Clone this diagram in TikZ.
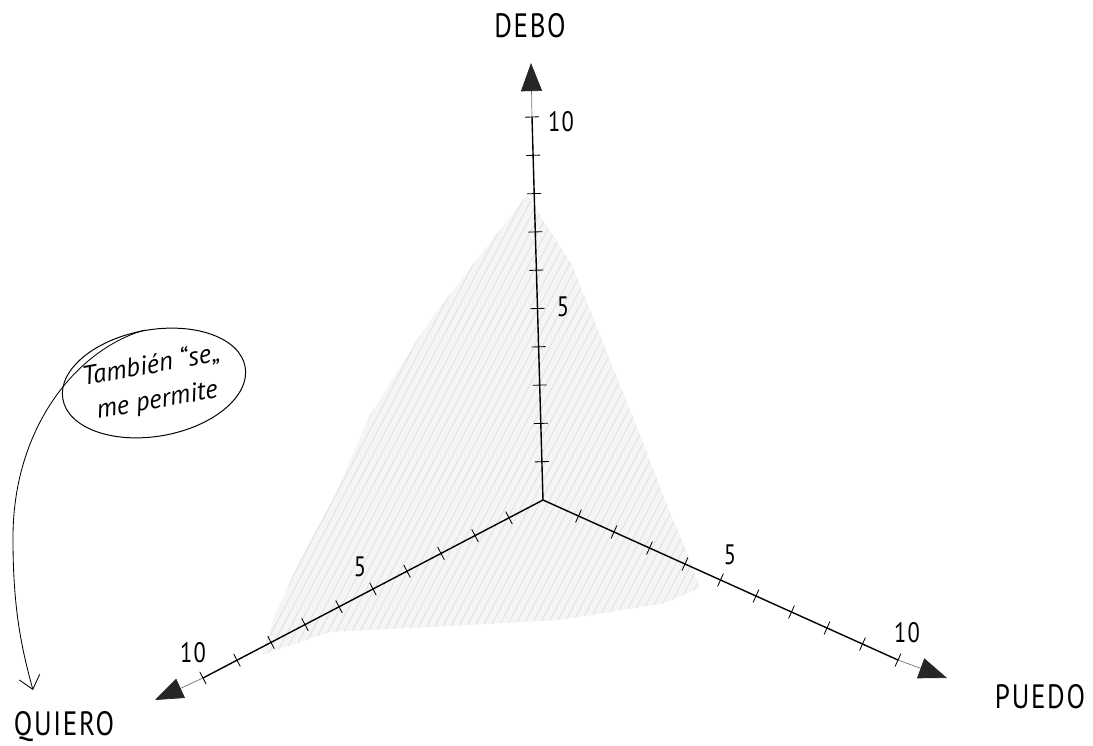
\documentclass[tikz,border=0pt]{standalone}
\usepackage{fontspec}
\setmainfont{PT Sans}
\newfontfamily\labelfont[FakeStretch=0.8,LetterSpace=5]{PT Sans}
\usetikzlibrary{arrows.meta,calc,shapes.geometric}

\tikzset{
  axis/.style={line width=1pt, line cap=round},
  axisend/.style={line width=0.5pt, black!55, -{Triangle[length=20pt,width=15pt,color=black!85]}},
  tick/.style={line width=0.6pt},
  num/.style={font=\labelfont\fontsize{20}{22}\selectfont, inner sep=0pt},
  axislabel/.style={font=\labelfont\fontsize{24}{26}\selectfont, inner sep=0pt},
  note/.style={ellipse, draw, line width=0.7pt, align=center, rotate=10,
    font=\itshape\fontsize{19}{25}\selectfont, inner xsep=-3pt, inner ysep=5pt},
  notearrow/.style={line width=0.6pt, -{Straight Barb[length=9pt,width=15pt]}},
  hatch/.style={black!11, line width=0.7pt}
}

\begin{document}
\begin{tikzpicture}[x=0.025cm, y=-0.025cm]
  \useasboundingbox (0,0) rectangle (1093,745);

  \coordinate (O) at (543,500);
  \coordinate (D10) at (532,117);
  \coordinate (Q10) at (203,678);
  \coordinate (P10) at (898,660);
  \coordinate (D) at (531,63);
  \coordinate (Q) at (155,700);
  \coordinate (P) at (947,678);

  % shaded face
  \begin{scope}
    \clip (527,195) -- (572,265) -- (606,350) -- (640,435) -- (665,500) -- (688,555)
      -- (700,588) -- (665,603) -- (560,620) -- (430,627) -- (330,632) -- (262,655)
      -- (275,615) -- (300,560) -- (335,495) -- (370,415) -- (430,320) -- cycle;
    \fill[black!4] (0,0) rectangle (1093,745);
    \foreach \k in {0,...,75}
      \draw[hatch] (100+\k*8,700) -- ++(300,-570);
  \end{scope}

  % axes
  \foreach \a/\t in {D10/D, Q10/Q, P10/P} {
    \draw[axis] (O) -- (\a);
    \draw[axisend] (\a) -- (\t);
    \foreach \i in {1,...,10}
      \draw[tick] ($(O)!{\i/10}!(\a)!5pt!90:(O)$) -- ($(O)!{\i/10}!(\a)!5pt!-90:(O)$);
  }

  \node[num] (d5) at (563,307) {5};
  \node[num] (d10) at (561,122) {10};
  \node[num] (q5) at (360,567) {5};
  \node[num] (q10) at (193,653) {10};
  \node[num] (p5) at (730,555) {5};
  \node[num] (p10) at (907,633) {10};

  \node[axislabel] (debo) at (530,26) {DEBO};
  \node[axislabel] (quiero) at (64,727) {QUIERO};
  \node[axislabel] (puedo) at (1040,697) {PUEDO};

  % note
  \node[note] (note) at (154,383) {También “se„\\me permite};
  \coordinate (tip) at (33,690);
  \draw[notearrow] (note.north) .. controls (75,350) and (12,430) .. (13,540)
    .. controls (13,610) and (22,650) .. (tip);
\end{tikzpicture}
\end{document}
